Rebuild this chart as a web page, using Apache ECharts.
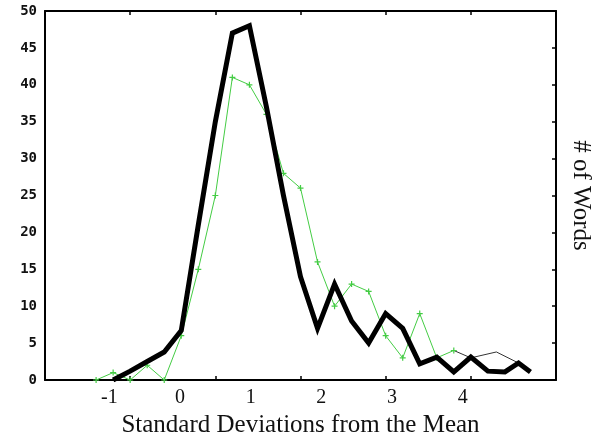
<!DOCTYPE html>
<html>
  <head>
    <meta charset="utf-8" />
    <title># of Words</title>
    <script src="https://cdn.jsdelivr.net/npm/echarts@6.0.0/dist/echarts.min.js"></script>
  </head>
  <body style="margin: 0; background: #fff">
    <div id="main" style="width: 596px; height: 439px"></div>
    <script type="text/javascript">
      // x values are histogram bin indices (ticks every 5 bins), y = # of words
      var greenX = [3, 4, 5, 6, 7, 8, 9, 10, 11, 12, 13, 14, 15, 16, 17, 18, 19, 20, 21, 22, 23, 24];
      var greenY = [0, 1, 0, 2, 0, 6, 15, 25, 41, 40, 36, 28, 26, 16, 10, 13, 12, 6, 3, 9, 3, 4];

      var thinX = [24, 25, 26.5, 27.8];
      var thinY = [4, 3, 3.8, 2.3];

      var blackX = [4, 5, 6, 7, 8, 9, 10, 11, 12, 13, 14, 15, 16, 17, 18, 19, 20, 21, 22, 23, 24, 25, 26, 27, 27.8, 28.5];
      var blackY = [0, 1.2, 2.5, 3.8, 6.7, 21, 35, 47, 48, 37, 25, 14, 7, 13, 8, 5, 9, 7, 2.2, 3.1, 1.1, 3.1, 1.2, 1.1, 2.3, 1.1];

      // labels in standard deviations, drawn on their own axis
      var sdTicks = [-1, 0, 1, 2, 3, 4];

      function pairs(xs, ys) {
        return xs.map(function (x, i) {
          return [x, ys[i]];
        });
      }

      var frameLine = { show: true, onZero: false, lineStyle: { color: "#000", width: 2 } };
      var innerTick = { show: true, inside: true, length: 4, lineStyle: { color: "#000", width: 1.5 } };

      var myChart = echarts.init(document.getElementById("main"));

      var option = {
        animation: false,
        grid: { left: 45, top: 11, right: 40, bottom: 59, outerBoundsMode: "none" },
        xAxis: [
          {
            type: "value",
            min: 0,
            max: 30,
            interval: 5,
            position: "bottom",
            axisLine: frameLine,
            axisTick: innerTick,
            axisLabel: { show: false },
            splitLine: { show: false },
          },
          {
            type: "value",
            min: 0,
            max: 30,
            interval: 5,
            position: "top",
            axisLine: frameLine,
            axisTick: innerTick,
            axisLabel: { show: false },
            splitLine: { show: false },
          },
          {
            type: "value",
            min: -1.91,
            max: 5.32,
            position: "bottom",
            axisLine: { show: false, onZero: false },
            axisTick: { show: false },
            splitLine: { show: false },
            axisLabel: {
              customValues: sdTicks,
              fontFamily: "Liberation Serif",
              fontSize: 20,
              color: "#111",
              margin: 8,
            },
            name: "Standard Deviations from the Mean",
            nameLocation: "middle",
            nameGap: 24,
            nameTextStyle: { fontFamily: "Liberation Serif", fontSize: 25, color: "#111" },
          },
        ],
        yAxis: [
          {
            type: "value",
            min: 0,
            max: 50,
            interval: 5,
            position: "left",
            axisLine: frameLine,
            axisTick: { show: false },
            splitLine: { show: false },
            axisLabel: {
              fontFamily: "DejaVu Sans Mono",
              fontWeight: "bold",
              fontSize: 14,
              color: "#111",
              margin: 8,
            },
          },
          {
            type: "value",
            min: 0,
            max: 50,
            interval: 5,
            position: "right",
            axisLine: frameLine,
            axisTick: innerTick,
            axisLabel: { show: false },
            splitLine: { show: false },
            name: "# of Words",
            nameLocation: "middle",
            nameRotate: -90,
            nameGap: 12,
            nameTextStyle: { fontFamily: "Liberation Serif", fontSize: 25, color: "#111" },
          },
        ],
        series: [
          {
            type: "line",
            data: pairs(greenX, greenY),
            symbol: "path://M4,0h2v4h4v2h-4v4h-2v-4h-4v-2h4z",
            symbolSize: 6,
            showAllSymbol: true,
            itemStyle: { color: "#44cc44" },
            lineStyle: { color: "#44cc44", width: 1 },
            z: 2,
          },
          {
            type: "line",
            data: pairs(thinX, thinY),
            symbol: "none",
            lineStyle: { color: "#333", width: 1 },
            z: 2,
          },
          {
            type: "line",
            data: pairs(blackX, blackY),
            symbol: "none",
            lineStyle: { color: "#000", width: 5, join: "miter" },
            z: 3,
          },
        ],
      };

      myChart.setOption(option);
    </script>
  </body>
</html>
